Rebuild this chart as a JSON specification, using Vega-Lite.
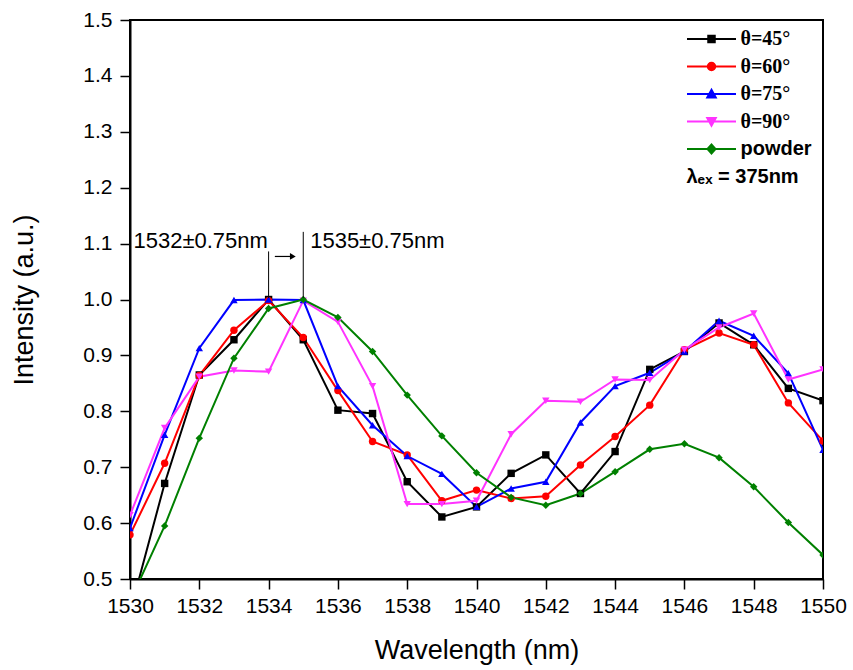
{
  "$schema": "https://vega.github.io/schema/vega-lite/v6.json",
  "autosize": "none",
  "width": 693,
  "height": 559,
  "padding": {"left": 130, "top": 20, "right": 30, "bottom": 91},
  "background": "white",
  "config": {
    "view": {"stroke": "black", "strokeWidth": 2},
    "font": "Liberation Sans",
    "axis": {
      "grid": false,
      "domainColor": "black",
      "domainWidth": 2,
      "tickColor": "black",
      "tickWidth": 1.5,
      "labelColor": "black",
      "labelFont": "Liberation Sans",
      "labelFontSize": 21,
      "titleFont": "Liberation Sans",
      "titleFontSize": 27,
      "titleFontWeight": "normal",
      "titleColor": "black"
    }
  },
  "datasets": {
    "spectra": [
      {"w": 1530, "s": "θ=45°", "v": 0.44},
      {"w": 1531, "s": "θ=45°", "v": 0.671},
      {"w": 1532, "s": "θ=45°", "v": 0.865},
      {"w": 1533, "s": "θ=45°", "v": 0.928},
      {"w": 1534, "s": "θ=45°", "v": 1.0},
      {"w": 1535, "s": "θ=45°", "v": 0.928},
      {"w": 1536, "s": "θ=45°", "v": 0.802},
      {"w": 1537, "s": "θ=45°", "v": 0.796},
      {"w": 1538, "s": "θ=45°", "v": 0.674},
      {"w": 1539, "s": "θ=45°", "v": 0.611},
      {"w": 1540, "s": "θ=45°", "v": 0.629},
      {"w": 1541, "s": "θ=45°", "v": 0.689},
      {"w": 1542, "s": "θ=45°", "v": 0.722},
      {"w": 1543, "s": "θ=45°", "v": 0.653},
      {"w": 1544, "s": "θ=45°", "v": 0.728},
      {"w": 1545, "s": "θ=45°", "v": 0.875},
      {"w": 1546, "s": "θ=45°", "v": 0.907},
      {"w": 1547, "s": "θ=45°", "v": 0.958},
      {"w": 1548, "s": "θ=45°", "v": 0.919},
      {"w": 1549, "s": "θ=45°", "v": 0.841},
      {"w": 1550, "s": "θ=45°", "v": 0.819},

      {"w": 1530, "s": "θ=60°", "v": 0.579},
      {"w": 1531, "s": "θ=60°", "v": 0.707},
      {"w": 1532, "s": "θ=60°", "v": 0.864},
      {"w": 1533, "s": "θ=60°", "v": 0.945},
      {"w": 1534, "s": "θ=60°", "v": 0.998},
      {"w": 1535, "s": "θ=60°", "v": 0.932},
      {"w": 1536, "s": "θ=60°", "v": 0.837},
      {"w": 1537, "s": "θ=60°", "v": 0.746},
      {"w": 1538, "s": "θ=60°", "v": 0.722},
      {"w": 1539, "s": "θ=60°", "v": 0.640},
      {"w": 1540, "s": "θ=60°", "v": 0.659},
      {"w": 1541, "s": "θ=60°", "v": 0.644},
      {"w": 1542, "s": "θ=60°", "v": 0.648},
      {"w": 1543, "s": "θ=60°", "v": 0.704},
      {"w": 1544, "s": "θ=60°", "v": 0.755},
      {"w": 1545, "s": "θ=60°", "v": 0.811},
      {"w": 1546, "s": "θ=60°", "v": 0.910},
      {"w": 1547, "s": "θ=60°", "v": 0.940},
      {"w": 1548, "s": "θ=60°", "v": 0.919},
      {"w": 1549, "s": "θ=60°", "v": 0.815},
      {"w": 1550, "s": "θ=60°", "v": 0.747},

      {"w": 1530, "s": "θ=75°", "v": 0.591},
      {"w": 1531, "s": "θ=75°", "v": 0.758},
      {"w": 1532, "s": "θ=75°", "v": 0.913},
      {"w": 1533, "s": "θ=75°", "v": 0.999},
      {"w": 1534, "s": "θ=75°", "v": 1.0},
      {"w": 1535, "s": "θ=75°", "v": 0.999},
      {"w": 1536, "s": "θ=75°", "v": 0.845},
      {"w": 1537, "s": "θ=75°", "v": 0.775},
      {"w": 1538, "s": "θ=75°", "v": 0.720},
      {"w": 1539, "s": "θ=75°", "v": 0.688},
      {"w": 1540, "s": "θ=75°", "v": 0.629},
      {"w": 1541, "s": "θ=75°", "v": 0.662},
      {"w": 1542, "s": "θ=75°", "v": 0.674},
      {"w": 1543, "s": "θ=75°", "v": 0.780},
      {"w": 1544, "s": "θ=75°", "v": 0.845},
      {"w": 1545, "s": "θ=75°", "v": 0.869},
      {"w": 1546, "s": "θ=75°", "v": 0.907},
      {"w": 1547, "s": "θ=75°", "v": 0.962},
      {"w": 1548, "s": "θ=75°", "v": 0.935},
      {"w": 1549, "s": "θ=75°", "v": 0.868},
      {"w": 1550, "s": "θ=75°", "v": 0.731},

      {"w": 1530, "s": "θ=90°", "v": 0.614},
      {"w": 1531, "s": "θ=90°", "v": 0.770},
      {"w": 1532, "s": "θ=90°", "v": 0.862},
      {"w": 1533, "s": "θ=90°", "v": 0.873},
      {"w": 1534, "s": "θ=90°", "v": 0.871},
      {"w": 1535, "s": "θ=90°", "v": 0.998},
      {"w": 1536, "s": "θ=90°", "v": 0.960},
      {"w": 1537, "s": "θ=90°", "v": 0.845},
      {"w": 1538, "s": "θ=90°", "v": 0.634},
      {"w": 1539, "s": "θ=90°", "v": 0.634},
      {"w": 1540, "s": "θ=90°", "v": 0.640},
      {"w": 1541, "s": "θ=90°", "v": 0.759},
      {"w": 1542, "s": "θ=90°", "v": 0.819},
      {"w": 1543, "s": "θ=90°", "v": 0.817},
      {"w": 1544, "s": "θ=90°", "v": 0.857},
      {"w": 1545, "s": "θ=90°", "v": 0.856},
      {"w": 1546, "s": "θ=90°", "v": 0.910},
      {"w": 1547, "s": "θ=90°", "v": 0.950},
      {"w": 1548, "s": "θ=90°", "v": 0.975},
      {"w": 1549, "s": "θ=90°", "v": 0.857},
      {"w": 1550, "s": "θ=90°", "v": 0.875},

      {"w": 1530, "s": "powder", "v": 0.46},
      {"w": 1531, "s": "powder", "v": 0.595},
      {"w": 1532, "s": "powder", "v": 0.752},
      {"w": 1533, "s": "powder", "v": 0.895},
      {"w": 1534, "s": "powder", "v": 0.984},
      {"w": 1535, "s": "powder", "v": 1.0},
      {"w": 1536, "s": "powder", "v": 0.968},
      {"w": 1537, "s": "powder", "v": 0.907},
      {"w": 1538, "s": "powder", "v": 0.829},
      {"w": 1539, "s": "powder", "v": 0.756},
      {"w": 1540, "s": "powder", "v": 0.690},
      {"w": 1541, "s": "powder", "v": 0.646},
      {"w": 1542, "s": "powder", "v": 0.632},
      {"w": 1543, "s": "powder", "v": 0.653},
      {"w": 1544, "s": "powder", "v": 0.692},
      {"w": 1545, "s": "powder", "v": 0.732},
      {"w": 1546, "s": "powder", "v": 0.742},
      {"w": 1547, "s": "powder", "v": 0.717},
      {"w": 1548, "s": "powder", "v": 0.665},
      {"w": 1549, "s": "powder", "v": 0.601},
      {"w": 1550, "s": "powder", "v": 0.543}
    ],
    "labels": [
      {"x": 1530.1, "y": 1.092, "t": "1532±0.75nm"},
      {"x": 1535.2, "y": 1.092, "t": "1535±0.75nm"}
    ],
    "markers": [
      {"x": 1534, "y": 1.003, "y2": 1.086},
      {"x": 1535, "y": 1.003, "y2": 1.121}
    ],
    "arrow": [
      {"x": 1534.18, "x2": 1534.7, "y": 1.077}
    ],
    "arrowhead": [
      {"x": 1534.7, "y": 1.077}
    ]
  },
  "layer": [
    {
      "data": {"name": "spectra"},
      "mark": {"type": "line", "strokeWidth": 2, "clip": true},
      "encoding": {
        "x": {
          "field": "w", "type": "quantitative",
          "scale": {"domain": [1530, 1550], "nice": false, "zero": false},
          "axis": {
            "title": "Wavelength (nm)",
            "values": [1530,1531,1532,1533,1534,1535,1536,1537,1538,1539,1540,1541,1542,1543,1544,1545,1546,1547,1548,1549,1550],
            "labelExpr": "datum.value % 2 == 0 ? datum.label : ''",
            "format": "d",
            "labelFlush": false,
            "labelOverlap": false,
            "labelPadding": 6,
            "tickSize": {"condition": {"test": "datum.value % 2 == 0", "value": 10}, "value": 5},
            "titlePadding": 21
          }
        },
        "y": {
          "field": "v", "type": "quantitative",
          "scale": {"domain": [0.5, 1.5], "nice": false, "zero": false},
          "axis": {
            "title": "Intensity (a.u.)",
            "values": [0.5,0.55,0.6,0.65,0.7,0.75,0.8,0.85,0.9,0.95,1.0,1.05,1.1,1.15,1.2,1.25,1.3,1.35,1.4,1.45,1.5],
            "format": ".1f",
            "labelExpr": "round(datum.value*100) % 10 == 0 ? datum.label : ''",
            "labelOverlap": false,
            "labelFlush": false,
            "labelPadding": 8,
            "tickSize": {"condition": {"test": "round(datum.value*100) % 10 == 0", "value": 10}, "value": 5},
            "titlePadding": 44
          }
        },
        "color": {
          "field": "s", "type": "nominal",
          "scale": {
            "domain": ["θ=45°", "θ=60°", "θ=75°", "θ=90°", "powder"],
            "range": ["#000000", "#ff0000", "#0000ff", "#ff33ff", "#008000"]
          },
          "legend": {
            "title": "λₑₓ = 375nm",
            "titleOrient": "bottom",
            "titleFont": "Liberation Sans",
            "titleFontSize": 20,
            "titleFontWeight": "bold",
            "titleColor": "black",
            "titlePadding": 8,
            "orient": "none",
            "legendX": 556.5,
            "legendY": 9,
            "padding": 0,
            "symbolSize": 100,
            "symbolStrokeWidth": 2,
            "labelOffset": 19,
            "labelFontSize": 20,
            "labelFontWeight": "bold",
            "labelColor": "black",
            "rowPadding": 7.5,
            "encode": {
              "symbols": {
                "update": {
                  "shape": {"signal": "['M-4.9,0H4.9M-0.65,-0.65H0.65V0.65H-0.65Z','M-4.9,0H4.9M-0.75,0A0.75,0.75,0,1,0,0.75,0A0.75,0.75,0,1,0,-0.75,0Z','M-4.9,0H4.9M-0.85,0.7L0,-0.85L0.85,0.7Z','M-4.9,0H4.9M-0.85,-0.7L0,0.85L0.85,-0.7Z','M-4.9,0H4.9M-0.8,0L0,-0.9L0.8,0L0,0.9Z'][indexof(['θ=45°','θ=60°','θ=75°','θ=90°','powder'], datum.value)]"},
                  "fill": {"scale": "color", "field": "value"},
                  "stroke": {"scale": "color", "field": "value"},
                  "strokeWidth": {"value": 2},
                  "opacity": {"value": 1}
                }
              },
              "labels": {
                "update": {
                  "font": {"signal": "datum.value === 'powder' ? 'Liberation Sans' : 'Liberation Serif'"}
                }
              },
              "title": {
                "update": {
                  "dx": {"value": -15}
                }
              }
            }
          }
        }
      }
    },
    {
      "data": {"name": "spectra"},
      "mark": {"type": "point", "filled": true, "size": 55, "opacity": 1, "clip": true},
      "encoding": {
        "x": {"field": "w", "type": "quantitative"},
        "y": {"field": "v", "type": "quantitative"},
        "color": {"field": "s", "type": "nominal"},
        "shape": {
          "condition": [
            {"test": "datum.s === 'θ=45°'", "value": "square"},
            {"test": "datum.s === 'θ=60°'", "value": "circle"},
            {"test": "datum.s === 'θ=75°'", "value": "triangle-up"},
            {"test": "datum.s === 'θ=90°'", "value": "triangle-down"}
          ],
          "value": "diamond"
        }
      }
    },
    {
      "data": {"name": "markers"},
      "mark": {"type": "rule", "color": "black", "strokeWidth": 1},
      "encoding": {
        "x": {"field": "x", "type": "quantitative"},
        "y": {"field": "y", "type": "quantitative"},
        "y2": {"field": "y2"}
      }
    },
    {
      "data": {"name": "arrow"},
      "mark": {"type": "rule", "color": "black", "strokeWidth": 1.2},
      "encoding": {
        "x": {"field": "x", "type": "quantitative"},
        "x2": {"field": "x2"},
        "y": {"field": "y", "type": "quantitative"}
      }
    },
    {
      "data": {"name": "arrowhead"},
      "mark": {"type": "point", "shape": "triangle-right", "filled": true, "color": "black", "size": 45, "opacity": 1},
      "encoding": {
        "x": {"field": "x", "type": "quantitative"},
        "y": {"field": "y", "type": "quantitative"}
      }
    },
    {
      "data": {"name": "labels"},
      "mark": {"type": "text", "align": "left", "baseline": "alphabetic", "fontSize": 22, "font": "Liberation Sans", "color": "black"},
      "encoding": {
        "x": {"field": "x", "type": "quantitative"},
        "y": {"field": "y", "type": "quantitative"},
        "text": {"field": "t", "type": "nominal"}
      }
    }
  ]
}
